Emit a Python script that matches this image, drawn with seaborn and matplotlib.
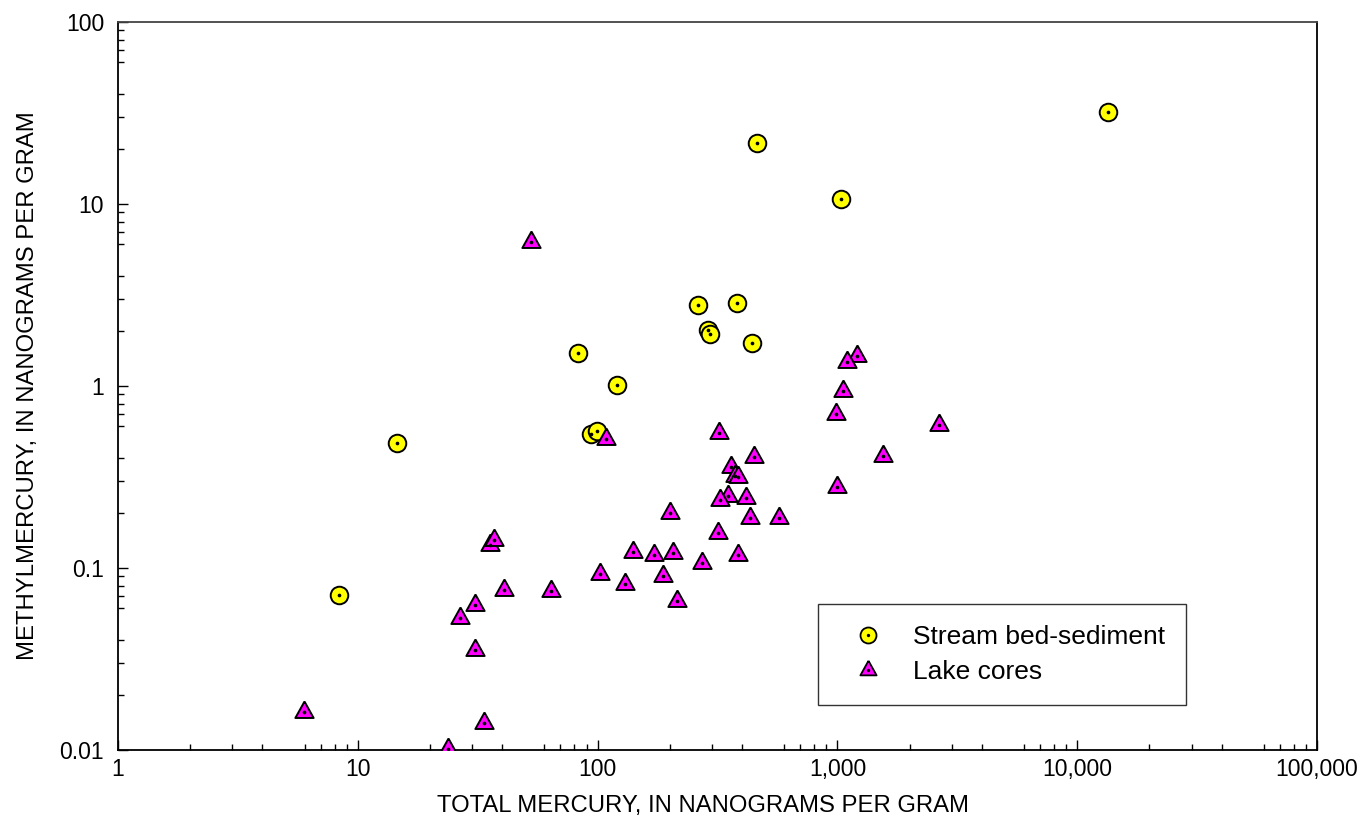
import numpy as np
import pandas as pd
import matplotlib
matplotlib.use("Agg")
import matplotlib.pyplot as plt
import seaborn as sns
from matplotlib.ticker import LogLocator, FuncFormatter, NullFormatter
from matplotlib.lines import Line2D

# Stream bed-sediment samples (total Hg, methyl Hg), ng/g
stream_total = [8.35, 14.6, 82.8, 120.5, 93.8, 99.4, 262, 381, 288, 293, 442, 462, 1035, 13440]
stream_methyl = [0.071, 0.486, 1.52, 1.01, 0.545, 0.566, 2.79, 2.86, 2.04, 1.94, 1.72, 21.6, 10.6, 32.0]

# Lake core samples
lake_total = [5.97, 23.7, 33.6, 30.9, 26.8, 30.9, 40.8, 35.7, 36.9, 63.9,
              52.8, 108.7, 989, 2653, 320, 449, 1554, 361, 374, 386,
              996, 350, 325, 417, 431, 569, 200, 317, 140, 172,
              206, 386, 272, 102.6, 187.4, 130.5, 215, 1203, 1097, 1052]
lake_methyl = [0.0161, 0.0101, 0.0141, 0.0353, 0.0531, 0.0624, 0.0754, 0.1336, 0.1426, 0.0748,
               6.18, 0.512, 0.701, 0.611, 0.554, 0.409, 0.411, 0.360, 0.320, 0.315,
               0.277, 0.249, 0.2366, 0.2415, 0.1874, 0.1874, 0.1998, 0.1563, 0.122, 0.118,
               0.1208, 0.1175, 0.1066, 0.0927, 0.0904, 0.0817, 0.0656, 1.467, 1.36, 0.935]

x_ticks = [1, 10, 100, 1000, 10000, 100000]
y_ticks = [0.01, 0.1, 1, 10, 100]

stream = pd.DataFrame({"total": stream_total, "methyl": stream_methyl})
lake = pd.DataFrame({"total": lake_total, "methyl": lake_methyl})

sns.set_style("ticks")
plt.rcParams["font.family"] = ["Liberation Sans", "DejaVu Sans"]
plt.rcParams["text.color"] = "black"
plt.rcParams["axes.labelcolor"] = "black"

# triangle with its centroid at the origin, so the inner dot sits at the centroid
tri = [(0, 9), (-7.5, -4.5), (7.5, -4.5), (0, 9)]

fig = plt.figure(figsize=(13.63, 8.21), dpi=100)
ax = fig.add_axes([0.08657, 0.08648, 0.87968, 0.88672])

sns.scatterplot(data=stream, x="total", y="methyl", marker="o", s=160, color="#FFFF00",
                edgecolor="black", linewidth=1.4, ax=ax, zorder=3)
sns.scatterplot(data=stream, x="total", y="methyl", marker="o", s=7, color="black",
                edgecolor="black", linewidth=0, ax=ax, zorder=3)
sns.scatterplot(data=lake, x="total", y="methyl", marker=tri, s=250, color="#FF00FF",
                edgecolor="black", linewidth=1.4, ax=ax, zorder=4)
sns.scatterplot(data=lake, x="total", y="methyl", marker="o", s=7, color="black",
                edgecolor="black", linewidth=0, ax=ax, zorder=4)

ax.set_xscale("log")
ax.set_yscale("log")
ax.set_xlim(1, 100000)
ax.set_ylim(0.01, 100)

ax.set_xticks(x_ticks)
ax.set_yticks(y_ticks)
ax.xaxis.set_major_formatter(FuncFormatter(lambda v, _: f"{int(round(v)):,}"))
ax.yaxis.set_major_formatter(FuncFormatter(lambda v, _: f"{v:g}"))
# the original has no tick at 5 in each decade
ax.xaxis.set_minor_locator(LogLocator(base=10, subs=[2, 3, 4, 6, 7, 8, 9], numticks=20))
ax.yaxis.set_minor_locator(LogLocator(base=10, subs=[2, 3, 4, 6, 7, 8, 9], numticks=20))
ax.xaxis.set_minor_formatter(NullFormatter())
ax.yaxis.set_minor_formatter(NullFormatter())

ax.tick_params(which="both", direction="in", top=False, right=False, width=1, colors="black",
               labelsize=16.5)
ax.tick_params(which="major", length=7)
ax.tick_params(which="minor", length=4.5)
ax.tick_params(axis="x", pad=6)
ax.tick_params(axis="y", pad=10)

for side in ["left", "bottom", "right", "top"]:
    ax.spines[side].set_color("black")
    ax.spines[side].set_linewidth(1.3)
ax.spines["top"].set_color("#444444")

ax.set_xlabel("TOTAL MERCURY, IN NANOGRAMS PER GRAM", fontsize=17.2)
ax.set_ylabel("METHYLMERCURY, IN NANOGRAMS PER GRAM", fontsize=17.2)
ax.xaxis.set_label_coords(0.488, -0.062)
ax.yaxis.set_label_coords(-0.066, 0.5)

h_stream = (Line2D([], [], ls="", marker="o", ms=11.5, mfc="#FFFF00", mec="black", mew=1.3),
            Line2D([], [], ls="", marker="o", ms=2.4, mfc="black", mec="black", mew=0))
h_lake = (Line2D([], [], ls="", marker=tri, ms=14, mfc="#FF00FF", mec="black", mew=1.3),
          Line2D([], [], ls="", marker="o", ms=2.4, mfc="black", mec="black", mew=0))
leg = ax.legend([h_stream, h_lake], ["Stream bed-sediment", "Lake cores"],
                loc="lower left", bbox_to_anchor=(0.5838, 0.0618), fontsize=19,
                frameon=True, fancybox=False, framealpha=1, edgecolor="#333333",
                borderpad=0.8, labelspacing=0.41, handletextpad=0.61, handlelength=2.19,
                borderaxespad=0)
leg.get_frame().set_linewidth(1.0)

fig.savefig("out.png", dpi=100)
plt.close(fig)
